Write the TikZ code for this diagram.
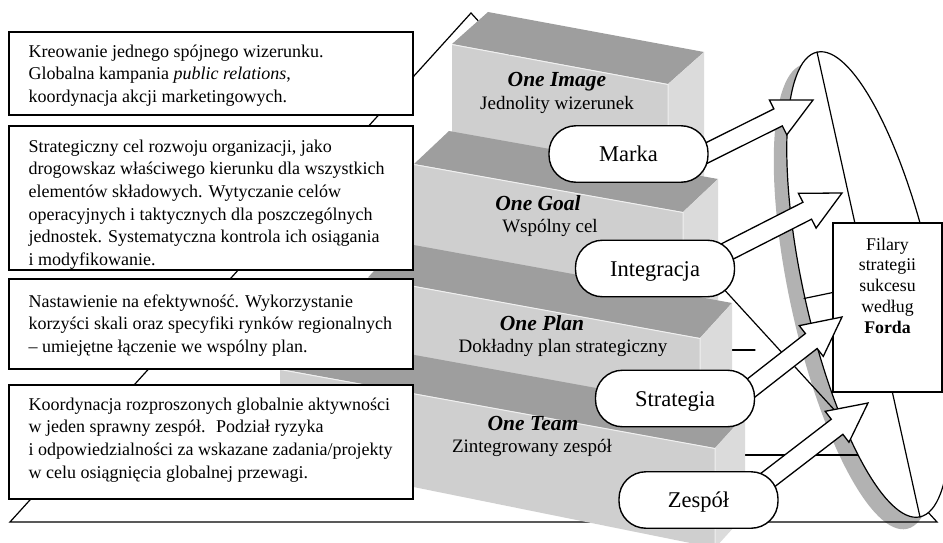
\documentclass[tikz,border=0pt]{standalone}
\usepackage{fontspec}
\setmainfont{Liberation Serif}
\usetikzlibrary{calc}
\newcommand\fstA{\rule{0pt}{14pt}}
\newcommand\fstB{\rule{0pt}{13pt}}
\newcommand\blkarrow[2]{%
  \path (#2) coordinate (tmpT) ($(#2)!39pt!(#1)$) coordinate (tmpH);
  \draw[blockarrow] (tmpT)
    -- ($(tmpH)!19.5pt!90:(tmpT)$) -- ($(tmpH)!9.5pt!90:(tmpT)$)
    -- ($(#1)!9.5pt!90:(tmpT)$) -- ($(#1)!9.5pt!-90:(tmpT)$)
    -- ($(tmpH)!9.5pt!-90:(tmpT)$) -- ($(tmpH)!19.5pt!-90:(tmpT)$) -- cycle;}
\tikzset{
 pyr/.style={line width=1.2pt, line cap=round},
 topf/.style={fill=black!38},
 frontf/.style={fill=black!19},
 sidef/.style={fill=black!14},
 hl/.style={draw=black!6, line width=1pt},
 txtbox/.style={draw, fill=white, line width=1.5pt, inner sep=0pt, minimum width=404pt},
 boxtext/.style={align=left, inner sep=0pt, anchor=north west, font=\fontsize{18}{22.6}\selectfont},
 stitle/.style={inner sep=0pt, font=\fontsize{21.5}{24}\selectfont\bfseries\itshape, text height=14pt, text depth=4pt},
 ssub/.style={inner sep=0pt, font=\fontsize{19}{22}\selectfont, text height=13pt, text depth=4pt},
 pill/.style={draw, fill=white, line width=1.4pt, rounded corners=27pt, minimum width=159pt, minimum height=56.5pt, inner sep=0pt, font=\fontsize{22.5}{26}\selectfont, text height=15pt, text depth=0pt},
 blockarrow/.style={draw, fill=white, line width=1.3pt, line join=miter},
 ellip/.style={draw, fill=white, line width=1.2pt},
 shadowf/.style={fill=black!30},
 filbox/.style={draw, fill=white, line width=1.3pt, inner sep=0pt, minimum width=109pt, minimum height=169pt},
}
\begin{document}
\begin{tikzpicture}[x=1pt,y=-1pt]
\useasboundingbox (0,0) rectangle (943,543);
\clip (0,0) rectangle (943,543);
% shadow of the disc
\fill[shadowf, rotate around={-77.5:(855.5,296.5)}] (855.5,296.5) ellipse [x radius=238pt, y radius=65pt];
% pyramid outline and level lines
\draw[pyr, line join=miter] (10,522) -- (471,13) -- (937,522) -- cycle;
\draw[pyr] (700,350) -- (755,350);
\draw[pyr] (715,455) -- (875,455);
% block 1
\fill[frontf] (452,44) -- (668,84) -- (668,215) -- (452,175) -- cycle;
\fill[topf] (452,44) -- (668,84) -- (704,52) -- (488,12) -- cycle;
\fill[sidef] (668,84) -- (704,52) -- (704,183) -- (668,215) -- cycle;
\draw[hl] (452,44.5) -- (668,84.5) -- (668,215);
% block 2
\fill[frontf] (414,164) -- (683,212) -- (683,348) -- (414,300) -- cycle;
\fill[topf] (414,164) -- (683,212) -- (718,179) -- (449,131) -- cycle;
\fill[sidef] (683,212) -- (718,179) -- (718,315) -- (683,348) -- cycle;
\draw[hl] (414,164.5) -- (683,212.5) -- (683,348);
% block 3
\fill[frontf] (368,277.5) -- (700,338) -- (700,482) -- (368,420) -- cycle;
\fill[topf] (368,277.5) -- (700,338) -- (732,303) -- (400,242.5) -- cycle;
\fill[sidef] (700,338) -- (732,303) -- (732,447) -- (700,482) -- cycle;
\draw[hl] (368,278) -- (700,338.5) -- (700,482);
% block 4
\fill[frontf] (280,369) -- (715,448) -- (715,548) -- (280,460) -- cycle;
\fill[topf] (280,369) -- (715,448) -- (745,415) -- (310,336) -- cycle;
\fill[sidef] (715,448) -- (745,415) -- (745,515) -- (715,548) -- cycle;
\draw[hl] (280,369.5) -- (715,448.5) -- (715,548);
% step labels
\node[stitle] (t1a) at (557,82) {One Image};
\node[ssub] (t1b) at (557,105) {Jednolity wizerunek};
\node[stitle] (t2a) at (538,205) {One Goal};
\node[ssub] (t2b) at (550,228) {Wspólny cel};
\node[stitle] (t3a) at (542,325) {One Plan};
\node[ssub] (t3b) at (563,348) {Dokładny plan strategiczny};
\node[stitle] (t4a) at (533,425) {One Team};
\node[ssub] (t4b) at (532,448) {Zintegrowany zespół};
% text boxes
\node[txtbox, minimum height=83pt] (box1) at (211,73.5) {};
\node[txtbox, minimum height=144pt] (box2) at (211,198) {};
\node[txtbox, minimum height=90pt] (box3) at (211,324) {};
\node[txtbox, minimum height=114pt] (box4) at (211,442) {};
\node[boxtext] (txt1) at (28.5,43) {\fstA Kreowanie jednego spójnego wizerunku.\\
Globalna kampania \textit{public relations},\\
koordynacja akcji marketingowych.};
\node[boxtext] (txt2) at (28.5,138) {\fstA Strategiczny cel rozwoju organizacji, jako\\
drogowskaz właściwego kierunku dla wszystkich\\
elementów składowych. Wytyczanie celów\\
operacyjnych i taktycznych dla poszczególnych\\
jednostek. Systematyczna kontrola ich osiągania\\
i modyfikowanie.};
\node[boxtext] (txt3) at (28.5,293) {\fstA Nastawienie na efektywność. Wykorzystanie\\
korzyści skali oraz specyfiki rynków regionalnych\\
– umiejętne łączenie we wspólny plan.};
\node[boxtext] (txt4) at (28.5,396) {\fstA Koordynacja rozproszonych globalnie aktywności\\
w jeden sprawny zespół.~ Podział ryzyka\\
i odpowiedzialności za wskazane zadania/projekty\\
w celu osiągnięcia globalnej przewagi.};
% disc
\draw[ellip, rotate around={-77.5:(868.5,284.5)}] (868.5,284.5) ellipse [x radius=238pt, y radius=65pt];
\coordinate (discTop) at (817,52);
\coordinate (discBot) at (920,517);
\draw[pyr] (discTop) -- (discBot);
\draw[pyr] (804,298.5) -- (840,291);
% Filary box
\node[filbox] (filary) at (887.5,307.5) {};
\node[align=center, inner sep=0pt, anchor=north, font=\fontsize{17.8}{20.7}\selectfont] (filtxt) at (887.5,237) {\fstB Filary\\strategii\\sukcesu\\według\\\textbf{Forda}};
% arrows
\coordinate (sM) at (687.7,162.4); \coordinate (tM) at (813,100);
\coordinate (sI) at (708.4,261.1); \coordinate (tI) at (842,193);
\coordinate (sS) at (739.6,397);   \coordinate (tS) at (842,317);
\coordinate (sZ) at (757,488.3);   \coordinate (tZ) at (868,403);
\blkarrow{sM}{tM}
\blkarrow{sI}{tI}
\blkarrow{sS}{tS}
\blkarrow{sZ}{tZ}
% pills
\node[pill] (marka) at (628.5,154) {Marka};
\node[pill] (integr) at (655,268.5) {Integracja};
\node[pill] (strat) at (675,398.5) {Strategia};
\node[pill] (zesp) at (698.5,500) {Zespół};
\end{tikzpicture}
\end{document}
